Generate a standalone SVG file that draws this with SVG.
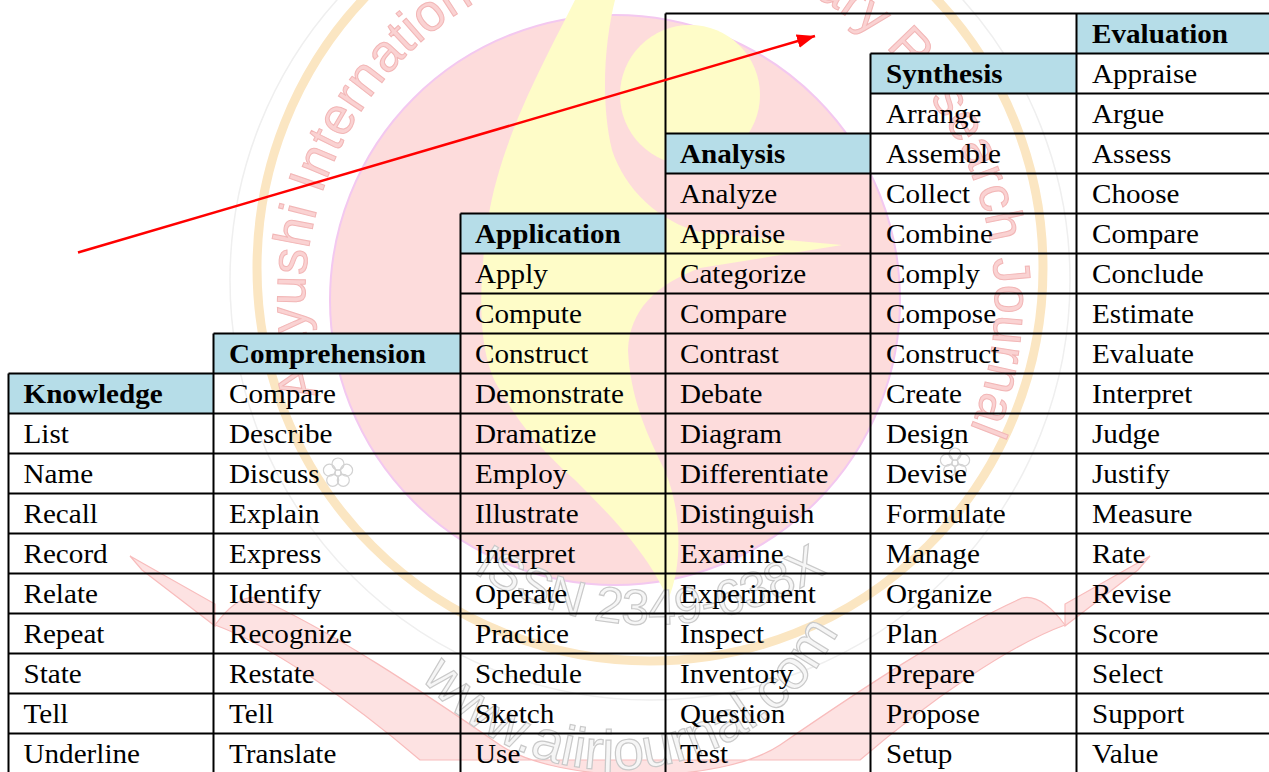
<svg xmlns="http://www.w3.org/2000/svg" width="1269" height="772" viewBox="0 0 1269 772">
<style>
.cell{font-family:"Liberation Serif","Times New Roman",serif;font-size:27.5px;fill:#000}
.hd{font-weight:bold}
.hfill{fill:#b6dde8}
.grid{stroke:#000;stroke-width:2;fill:none}
.wm-ring{font-family:"Liberation Sans",Arial,sans-serif;font-size:52px;fill:#fad2d2;stroke:#f2b6b6;stroke-width:1}
.wm-gray{font-family:"Liberation Sans",Arial,sans-serif;fill:#f6f6f6;stroke:#c9c9c9;stroke-width:1.2}
.flower{fill:none;stroke:#d2d2d2;stroke-width:1.2}
.ribbon{fill:#fde2e2;stroke:#f8bcbc;stroke-width:1.2}
</style>
<defs>
<marker id="ah" markerUnits="userSpaceOnUse" markerWidth="20" markerHeight="16" refX="18" refY="7" orient="auto">
<path d="M0,0 L18,7 L0,14 Z" fill="#ff0000"/>
</marker>
<path id="ringPath" d="M318.4,395.1 A345,345 0 1 1 969.9,429.2"/>
<path id="issnPath" d="M450,556 A325,325 0 0 0 850,556"/>
<path id="wwwPath" d="M400,648 A250,250 0 0 0 852,598"/>
</defs>
<rect width="1269" height="772" fill="#ffffff"/>
<g id="watermark">
<circle cx="650" cy="280" r="420" fill="none" stroke="#efefef" stroke-width="1.5"/>
<circle cx="650" cy="268" r="393" fill="none" stroke="#fbe6c2" stroke-width="9"/>
<circle cx="615" cy="300" r="285" fill="#fddcdc" stroke="#f3c8f0" stroke-width="2"/>
<circle cx="690" cy="95" r="70" fill="#fefcc8"/>
<path d="M575,0 C545,60 500,140 488,220 C476,300 480,360 500,390 C515,415 530,440 575,480 C610,515 650,555 668,600 C685,560 680,500 662,465 C645,430 630,395 628,350 C630,310 655,285 700,268 L842,245 L700,232 C660,222 625,190 612,150 C600,100 605,40 615,0 Z" fill="#fefcc8"/>
<path class="ribbon" d="M215,625 C230,605 245,595 258,598 C330,630 420,690 500,745 C560,785 720,785 780,745 C860,690 950,630 1022,598 C1035,595 1050,605 1065,625 C1010,645 930,700 860,760 L420,760 C350,700 270,645 215,625 Z"/>
<path class="ribbon" d="M130,556 L215,604 L215,626 L142,570 Z M1150,556 L1065,604 L1065,626 L1138,570 Z"/>
<text class="wm-ring"><textPath href="#ringPath" textLength="1312" lengthAdjust="spacing">Aayushi International Interdisciplinary Research Journal</textPath></text>
<text class="wm-gray" font-size="50"><textPath href="#issnPath" startOffset="50%" text-anchor="middle">ISSN 2349-638X</textPath></text>
<text class="wm-gray" font-size="56"><textPath href="#wwwPath" startOffset="50%" text-anchor="middle">www.aiirjournal.com</textPath></text>
<g class="flower" transform="translate(338,473)">
<circle r="3"/><circle cx="0" cy="-9" r="6"/><circle cx="8.6" cy="-2.8" r="6"/><circle cx="5.3" cy="7.3" r="6"/><circle cx="-5.3" cy="7.3" r="6"/><circle cx="-8.6" cy="-2.8" r="6"/>
</g>
<g class="flower" transform="translate(955,463)">
<circle r="3"/><circle cx="0" cy="-9" r="6"/><circle cx="8.6" cy="-2.8" r="6"/><circle cx="5.3" cy="7.3" r="6"/><circle cx="-5.3" cy="7.3" r="6"/><circle cx="-8.6" cy="-2.8" r="6"/>
</g>
</g>
<g id="headers">
<rect class="hfill" x="1076.5" y="13.5" width="193" height="40"/>
<rect class="hfill" x="870.5" y="53.5" width="206" height="40"/>
<rect class="hfill" x="665.5" y="133.5" width="205" height="40"/>
<rect class="hfill" x="460.5" y="213.5" width="205" height="40"/>
<rect class="hfill" x="213.5" y="333.5" width="247" height="40"/>
<rect class="hfill" x="8.5" y="373.5" width="205" height="40"/>
</g>
<g id="grid" class="grid">
<path d="M665.5,13.5H1269 M870.5,53.5H1269 M870.5,93.5H1269 M665.5,133.5H1269 M665.5,173.5H1269 M460.5,213.5H1269 M460.5,253.5H1269 M460.5,293.5H1269 M213.5,333.5H1269 M8.5,373.5H1269 M8.5,413.5H1269 M8.5,453.5H1269 M8.5,493.5H1269 M8.5,533.5H1269 M8.5,573.5H1269 M8.5,613.5H1269 M8.5,653.5H1269 M8.5,693.5H1269 M8.5,733.5H1269 M8.5,773.5H1269"/>
<path d="M8.5,373.5V774 M213.5,333.5V774 M460.5,213.5V774 M665.5,13.5V774 M870.5,53.5V774 M1076.5,13.5V774"/>
</g>
<g id="col-knowledge" class="cell" transform="translate(23.5,0) scale(1.06,1)">
<text class="hd" y="403.3">Knowledge</text>
<text y="443.3">List</text><text y="483.3">Name</text><text y="523.3">Recall</text><text y="563.3">Record</text><text y="603.3">Relate</text><text y="643.3">Repeat</text><text y="683.3">State</text><text y="723.3">Tell</text><text y="763.3">Underline</text>
</g>
<g id="col-comprehension" class="cell" transform="translate(229,0) scale(1.06,1)">
<text class="hd" y="363.3">Comprehension</text>
<text y="403.3">Compare</text><text y="443.3">Describe</text><text y="483.3">Discuss</text><text y="523.3">Explain</text><text y="563.3">Express</text><text y="603.3">Identify</text><text y="643.3">Recognize</text><text y="683.3">Restate</text><text y="723.3">Tell</text><text y="763.3">Translate</text>
</g>
<g id="col-application" class="cell" transform="translate(475,0) scale(1.06,1)">
<text class="hd" y="243.3">Application</text>
<text y="283.3">Apply</text><text y="323.3">Compute</text><text y="363.3">Construct</text><text y="403.3">Demonstrate</text><text y="443.3">Dramatize</text><text y="483.3">Employ</text><text y="523.3">Illustrate</text><text y="563.3">Interpret</text><text y="603.3">Operate</text><text y="643.3">Practice</text><text y="683.3">Schedule</text><text y="723.3">Sketch</text><text y="763.3">Use</text>
</g>
<g id="col-analysis" class="cell" transform="translate(680,0) scale(1.06,1)">
<text class="hd" y="163.3">Analysis</text>
<text y="203.3">Analyze</text><text y="243.3">Appraise</text><text y="283.3">Categorize</text><text y="323.3">Compare</text><text y="363.3">Contrast</text><text y="403.3">Debate</text><text y="443.3">Diagram</text><text y="483.3">Differentiate</text><text y="523.3">Distinguish</text><text y="563.3">Examine</text><text y="603.3">Experiment</text><text y="643.3">Inspect</text><text y="683.3">Inventory</text><text y="723.3">Question</text><text y="763.3">Test</text>
</g>
<g id="col-synthesis" class="cell" transform="translate(886,0) scale(1.06,1)">
<text class="hd" y="83.3">Synthesis</text>
<text y="123.3">Arrange</text><text y="163.3">Assemble</text><text y="203.3">Collect</text><text y="243.3">Combine</text><text y="283.3">Comply</text><text y="323.3">Compose</text><text y="363.3">Construct</text><text y="403.3">Create</text><text y="443.3">Design</text><text y="483.3">Devise</text><text y="523.3">Formulate</text><text y="563.3">Manage</text><text y="603.3">Organize</text><text y="643.3">Plan</text><text y="683.3">Prepare</text><text y="723.3">Propose</text><text y="763.3">Setup</text>
</g>
<g id="col-evaluation" class="cell" transform="translate(1092,0) scale(1.06,1)">
<text class="hd" y="43.3">Evaluation</text>
<text y="83.3">Appraise</text><text y="123.3">Argue</text><text y="163.3">Assess</text><text y="203.3">Choose</text><text y="243.3">Compare</text><text y="283.3">Conclude</text><text y="323.3">Estimate</text><text y="363.3">Evaluate</text><text y="403.3">Interpret</text><text y="443.3">Judge</text><text y="483.3">Justify</text><text y="523.3">Measure</text><text y="563.3">Rate</text><text y="603.3">Revise</text><text y="643.3">Score</text><text y="683.3">Select</text><text y="723.3">Support</text><text y="763.3">Value</text>
</g>
<g id="connectors">
<line x1="78" y1="252.5" x2="815" y2="36" stroke="#ff0000" stroke-width="2.5" marker-end="url(#ah)"/>
</g>
</svg>
